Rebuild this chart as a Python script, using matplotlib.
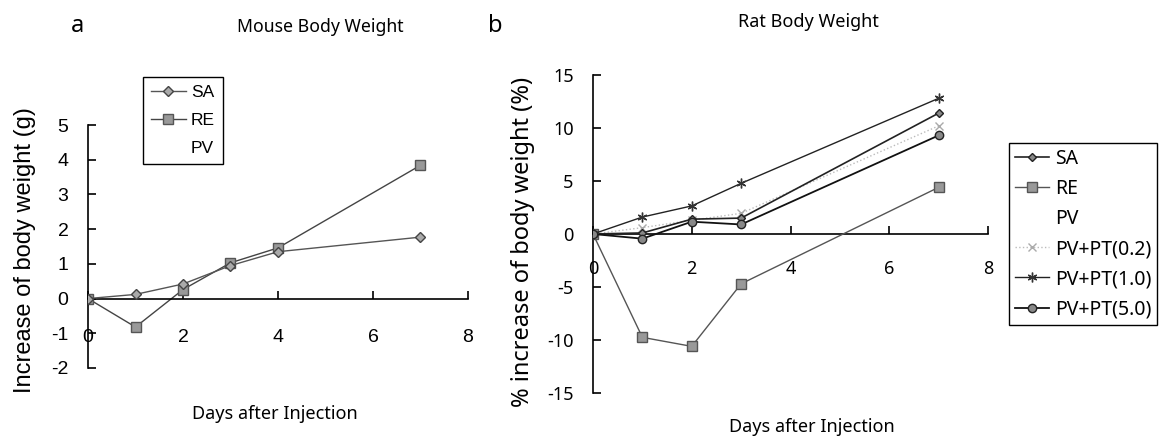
import matplotlib

matplotlib.use("Agg")
import matplotlib.pyplot as plt
from matplotlib.ticker import FixedLocator

plt.rcParams["axes.unicode_minus"] = False
plt.rcParams["font.family"] = ["Noto Sans", "DejaVu Sans"]

# --- panel a: mouse body weight (g) ---
mouse_days = [0, 1, 2, 3, 4, 7]
mouse_sa = [0.0, 0.12, 0.42, 0.95, 1.35, 1.77]
mouse_re = [0.0, -0.82, 0.26, 1.03, 1.46, 3.84]
mouse_pv = [0.0, 0.1, 0.4, 0.98, 1.38, 1.75]

# --- panel b: rat body weight (%) ---
rat_days = [0, 1, 2, 3, 7]
rat_sa = [0.0, 0.1, 1.4, 1.5, 11.4]
rat_re = [0.0, -9.75, -10.6, -4.7, 4.4]
rat_pv = [0.0, 0.3, 1.3, 1.6, 10.6]
rat_pt02 = [0.0, 0.6, 1.3, 1.95, 10.2]
rat_pt10 = [0.0, 1.6, 2.65, 4.78, 12.8]
rat_pt50 = [0.0, -0.44, 1.16, 0.9, 9.3]

x_ticks = [0, 2, 4, 6, 8]
mouse_yticks = [-2, -1, 0, 1, 2, 3, 4, 5]
rat_yticks = [-15, -10, -5, 0, 5, 10, 15]

narrow = ["Liberation Sans", "DejaVu Sans"]

fig = plt.figure(figsize=(11.6, 4.38), dpi=100)


def style_axes(ax, yticks, tick_font, tick_size, xpad, ypad):
    ax.spines["top"].set_visible(False)
    ax.spines["right"].set_visible(False)
    ax.spines["bottom"].set_position(("data", 0))
    ax.spines["left"].set_linewidth(1.2)
    ax.spines["bottom"].set_linewidth(1.2)
    ax.set_xlim(0, 8)
    ax.set_ylim(yticks[0], yticks[-1])
    ax.xaxis.set_major_locator(FixedLocator(x_ticks))
    ax.yaxis.set_major_locator(FixedLocator(yticks))
    ax.tick_params(axis="x", direction="in", length=6, width=1.2,
                   pad=xpad, labelsize=tick_size)
    ax.tick_params(axis="y", direction="in", length=6, width=1.2,
                   pad=ypad, labelsize=tick_size)
    for lab in ax.get_xticklabels() + ax.get_yticklabels():
        lab.set_family(tick_font)


# panel a
ax1 = fig.add_axes([88 / 1160, 1 - 368 / 438, 380 / 1160, 243 / 438])
ax1.plot(mouse_days, mouse_pv, color="white", lw=1, marker="",
         label="PV", zorder=1)
ax1.plot(mouse_days, mouse_sa, color="#555555", lw=1, marker="D", ms=5,
         mfc="#aaaaaa", mec="#444444", label="SA", zorder=3)
ax1.plot(mouse_days, mouse_re, color="#444444", lw=1, marker="s", ms=7,
         mfc="#999999", mec="#555555", label="RE", zorder=2)
style_axes(ax1, mouse_yticks, narrow, 14, 22, 14)
handles, labels = ax1.get_legend_handles_labels()
order = [1, 2, 0]
leg1 = ax1.legend([handles[i] for i in order], [labels[i] for i in order],
                  loc="upper left", bbox_to_anchor=(143 / 1160, 1 - 77 / 438),
                  bbox_transform=fig.transFigure, frameon=True, fancybox=False,
                  edgecolor="black", framealpha=1, handlelength=2.0,
                  labelspacing=0.75, borderpad=0.45, borderaxespad=0,
                  handletextpad=0.3, prop={"family": narrow, "size": 12.5})
leg1.get_frame().set_linewidth(1.0)
fig.text(25 / 1160, 1 - 250 / 438, "Increase of body weight (g)", rotation=90,
         ha="center", va="center", fontsize=17, family=narrow)
fig.text(320 / 1160, 1 - 27 / 438, "Mouse Body Weight", ha="center",
         va="center", fontsize=12.7)
fig.text(77 / 1160, 1 - 26 / 438, "a", ha="center", va="center",
         fontsize=17, fontweight="bold")
fig.text(275 / 1160, 1 - 414 / 438, "Days after Injection", ha="center",
         va="center", fontsize=13)

# panel b
ax2 = fig.add_axes([593 / 1160, 1 - 393 / 438, 395 / 1160, 318 / 438])
ax2.plot(rat_days, rat_sa, color="#222222", lw=1.2, marker="D", ms=4,
         mfc="#888888", mec="#222222", label="SA", zorder=3)
ax2.plot(rat_days, rat_re, color="#555555", lw=1, marker="s", ms=7,
         mfc="#999999", mec="#555555", label="RE", zorder=3)
ax2.plot(rat_days, rat_pv, color="white", lw=1, marker="", label="PV",
         zorder=1)
ax2.plot(rat_days, rat_pt02, color="#bbbbbb", lw=1, ls=":", marker="x",
         ms=6, mec="#aaaaaa", label="PV+PT(0.2)", zorder=2)
ax2.plot(rat_days, rat_pt10, color="#222222", lw=1, marker=(6, 2, 0), ms=7,
         mec="#333333", mew=1, label="PV+PT(1.0)", zorder=3)
ax2.plot(rat_days, rat_pt50, color="#111111", lw=1.3, marker="o", ms=6,
         mfc="#888888", mec="#222222", label="PV+PT(5.0)", zorder=3)
style_axes(ax2, rat_yticks, ["Noto Sans", "DejaVu Sans"], 13, 19, 14)
leg2 = ax2.legend(loc="upper left", bbox_to_anchor=(1009 / 1160, 1 - 143 / 438),
                  bbox_transform=fig.transFigure, frameon=True, fancybox=False,
                  edgecolor="black", framealpha=1, fontsize=14,
                  handlelength=1.75, labelspacing=0.52, borderpad=0.3,
                  borderaxespad=0, handletextpad=0.3)
leg2.get_frame().set_linewidth(1.0)
fig.text(523 / 1160, 1 - 242 / 438, "% increase of body weight (%)",
         rotation=90, ha="center", va="center", fontsize=17)
fig.text(808 / 1160, 1 - 22 / 438, "Rat Body Weight", ha="center",
         va="center", fontsize=13)
fig.text(495 / 1160, 1 - 26 / 438, "b", ha="center", va="center",
         fontsize=17, fontweight="bold")
fig.text(812 / 1160, 1 - 427 / 438, "Days after Injection", ha="center",
         va="center", fontsize=13)

fig.savefig("out.png", dpi=100)
